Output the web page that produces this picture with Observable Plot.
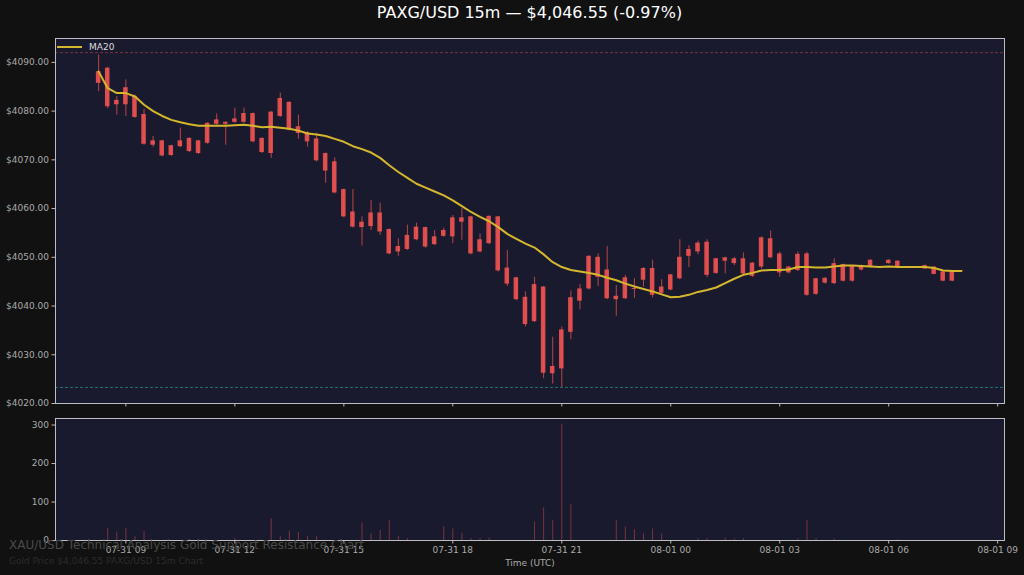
<!DOCTYPE html>
<html>
<head>
<meta charset="utf-8">
<script src="https://cdn.jsdelivr.net/npm/d3@7"></script>
<script src="https://cdn.jsdelivr.net/npm/@observablehq/plot@0.6"></script>
<style>
  html, body { margin: 0; padding: 0; background: #111111; }
  #root { position: relative; width: 1024px; height: 575px; background: #111111; overflow: hidden; font-family: "DejaVu Sans", sans-serif; }
  .abs { position: absolute; }
  #title { left: 0; width: 1059px; top: 3px; text-align: center; color: #ffffff; font-size: 16px; line-height: 20px; }
  #legend { left: 57px; top: 42px; display: flex; align-items: center; color: #dddddd; font-size: 9px; }
  #wm1 { left: 9px; top: 538px; color: #4a4a4a; font-size: 12px; white-space: nowrap; }
  #wm2 { left: 9px; top: 556px; color: #2c2c2c; font-size: 9px; white-space: nowrap; }
</style>
</head>
<body>
<div id="root">
  <div id="title" class="abs">PAXG/USD 15m — $4,046.55 (-0.97%)</div>
  <div id="main" class="abs" style="left:0;top:30px;"></div>
  <div id="vol" class="abs" style="left:0;top:415px;"></div>
  <div id="legend" class="abs"><svg width="26" height="10"><line x1="0" y1="5" x2="25" y2="5" stroke="#d4b72c" stroke-width="2"/></svg><span style="margin-left:6px">MA20</span></div>
  <div id="wm1" class="abs">XAU/USD Technical Analysis Gold Support Resistance Chart</div>
  <div id="wm2" class="abs">Gold Price $4,046.55 PAXG/USD 15m Chart</div>
</div>
<script>
// ---- data ----
const startTime = "2025-07-31T08:15:00Z";
const endTime = "2025-08-01T08:15:00Z"; // exclusive
const open = [4088.1,4088.8,4082.2,4084.8,4083.0,4079.3,4073.9,4073.9,4072.9,4073.9,
  4074.4,4073.9,4077.5,4078.2,4077.7,4078.4,4079.5,4079.5,4074.4,4079.8,
  4082.6,4081.8,4076.8,4075.6,4074.3,4071.3,4069.6,4063.9,4059.3,4057.2,
  4059.1,4059.1,4055.7,4052.2,4054.5,4056.2,4056.1,4054.2,4055.5,4058.1,
  4058.1,4058.3,4053.6,4058.4,4058.3,4047.8,4045.8,4041.8,4044.4,4043.9,
  4027.6,4035.1,4041.7,4043.5,4050.2,4050.0,4047.4,4042.0,4045.8,4043.6,
  4047.7,4047.7,4043.9,4046.4,4050.0,4051.6,4052.9,4053.1,4049.7,4049.9,
  4049.7,4049.7,4048.8,4054.0,4053.8,4050.7,4048.0,4050.6,4050.7,4045.6,
  4045.7,4048.7,4048.5,4048.2,4048.3,4049.4,4048.0,4049.4,4049.2,4048.0,
  4048.0,4048.3,4048.0,4047.0,4046.9,4047.2];
const close = [4085.7,4080.9,4081.3,4081.3,4078.7,4073.2,4073.0,4070.8,4070.9,4072.7,
  4071.7,4071.3,4073.4,4077.3,4077.3,4077.7,4077.7,4073.7,4071.5,4071.3,
  4078.9,4076.1,4075.4,4073.7,4069.8,4067.7,4063.2,4058.3,4056.2,4056.1,
  4056.3,4055.2,4050.7,4051.1,4051.6,4053.6,4052.1,4052.6,4054.3,4054.2,
  4057.2,4050.7,4051.1,4052.8,4047.2,4044.5,4041.3,4036.2,4036.8,4026.2,
  4026.1,4027.1,4034.6,4041.0,4043.5,4045.9,4041.5,4041.3,4041.5,4043.4,
  4045.3,4042.2,4042.6,4043.3,4045.6,4050.2,4051.1,4046.3,4046.7,4049.2,
  4048.7,4046.6,4046.1,4048.0,4049.9,4046.8,4046.8,4047.3,4042.2,4042.4,
  4044.7,4044.6,4045.1,4045.1,4047.4,4048.0,4048.0,4048.7,4048.0,4048.0,
  4048.0,4047.6,4046.5,4045.1,4045.1,4047.1];
const high = [4091.5,4089.0,4083.0,4086.4,4083.3,4080.4,4074.8,4074.0,4073.0,4076.5,
  4074.5,4074.0,4077.6,4079.4,4077.8,4080.6,4080.6,4079.6,4074.5,4079.9,
  4083.7,4081.9,4079.2,4075.8,4075.4,4071.4,4070.4,4064.0,4063.9,4058.3,
  4061.7,4061.1,4055.8,4053.8,4056.6,4057.0,4056.2,4055.5,4056.0,4058.6,
  4060.0,4058.4,4054.8,4058.5,4058.4,4051.4,4045.9,4042.9,4045.9,4044.0,
  4033.6,4035.7,4043.1,4044.4,4050.3,4050.7,4052.2,4044.2,4046.3,4045.6,
  4047.9,4049.4,4045.4,4046.5,4053.6,4052.4,4053.3,4053.6,4049.8,4050.0,
  4050.0,4050.9,4048.9,4054.2,4055.4,4051.1,4048.1,4051.1,4051.0,4045.7,
  4045.8,4049.7,4048.6,4048.3,4048.4,4049.5,4048.1,4049.5,4049.3,4048.1,
  4048.1,4048.4,4048.1,4047.1,4047.0,4047.3];
const low = [4084.0,4080.5,4079.2,4078.9,4078.5,4073.0,4072.6,4070.6,4070.7,4072.5,
  4071.5,4071.1,4073.2,4077.1,4073.0,4077.5,4077.5,4073.5,4071.3,4070.3,
  4078.7,4075.9,4074.2,4072.6,4069.6,4065.2,4063.0,4058.1,4056.0,4052.3,
  4055.5,4054.5,4050.5,4050.2,4051.4,4053.4,4051.9,4052.4,4054.1,4052.8,
  4053.5,4050.5,4050.9,4052.6,4047.0,4044.0,4041.1,4035.7,4036.6,4025.1,
  4024.0,4023.3,4033.1,4039.2,4043.3,4044.0,4041.3,4037.9,4041.3,4041.6,
  4043.9,4041.7,4042.4,4043.1,4045.4,4047.9,4050.5,4045.8,4046.5,4046.6,
  4048.3,4046.4,4045.9,4047.6,4049.7,4045.9,4046.6,4047.1,4042.0,4042.2,
  4044.5,4044.4,4044.9,4044.9,4047.2,4047.8,4047.9,4048.6,4047.9,4047.9,
  4047.9,4047.5,4046.4,4045.0,4045.0,4047.0];
const ma20 = [4088.1,4084.7,4083.7,4083.7,4083.0,4081.3,4080.0,4079.0,4078.2,4077.7,
  4077.3,4077.0,4077.0,4077.0,4077.0,4077.1,4077.2,4077.0,4076.7,4076.8,
  4076.6,4076.4,4076.0,4075.4,4075.2,4074.9,4074.3,4073.7,4072.8,4072.2,
  4071.5,4070.4,4068.9,4067.5,4066.3,4065.1,4064.3,4063.5,4062.7,4061.7,
  4060.5,4059.3,4058.3,4057.4,4056.2,4054.8,4053.8,4052.8,4052.0,4050.6,
  4049.0,4048.0,4047.4,4047.1,4046.8,4046.4,4045.8,4045.3,4044.6,4044.0,
  4043.5,4043.0,4042.4,4041.8,4041.9,4042.3,4042.9,4043.3,4043.8,4044.7,
  4045.6,4046.4,4046.8,4047.3,4047.4,4047.4,4047.5,4048.0,4048.0,4047.9,
  4047.9,4048.1,4048.3,4048.3,4048.2,4048.1,4048.0,4048.1,4048.0,4048.0,
  4048.0,4048.0,4047.8,4047.3,4047.2,4047.2];
const volume = [0,32,22,31,10,23,0,0,0,0,
  3,3,0,0,0,5,0,0,0,57,
  10,24,20,10,10,0,0,0,0,45,
  17,26,52,10,5,0,0,0,36,30,
  19,5,5,6,0,0,0,0,48,85,
  52,302,93,0,0,0,0,52,35,28,
  17,30,17,0,0,0,5,5,0,6,
  4,5,0,0,0,0,0,4,52,5,
  0,4,0,0,0,0,0,0,2,0,
  0,0,0,0,0,0];
const resistance = [4092.0];
const support = [4023.3];
const priceTicks = [4020,4030,4040,4050,4060,4070,4080,4090];
const volTicks = [0,100,200,300];
const timeTickLabels = ["07-31 09","07-31 12","07-31 15","07-31 18","07-31 21","08-01 00","08-01 03","08-01 06","08-01 09"];
const xDomain = ["2025-07-31T07:03:45Z","2025-08-01T09:11:15Z"];

// ---- build table ----
const times = d3.utcMinute.every(15).range(new Date(startTime), new Date(endTime));
const parseTick = d3.utcParse("%Y-%m-%d %H");
const xTicks = timeTickLabels.map(s => parseTick("2025-" + s));
const fmtTick = d3.utcFormat("%m-%d %H");
const data = times.map((t, i) => ({
  t, open: open[i], close: close[i], high: high[i], low: low[i], ma: ma20[i], vol: volume[i]
}));
const halfBody = 3.75 * 60 * 1000;

const RED = "#ef5350";
const PANEL = "#1a1a2e";
const FRAME = "#bdbdc6";
const xScale = {type: "utc", domain: xDomain.map(d => new Date(d))};
const baseStyle = {background: "transparent", color: "#aaaaaa", fontFamily: "DejaVu Sans, sans-serif", fontSize: "9px", overflow: "visible"};

const main = Plot.plot({
  width: 1024, height: 385,
  marginLeft: 55, marginRight: 20, marginTop: 8, marginBottom: 12,
  style: baseStyle,
  x: xScale,
  y: {domain: [4020, 4094.9]},
  marks: [
    Plot.frame({fill: PANEL, stroke: "none"}),
    Plot.ruleY(resistance, {stroke: RED, strokeOpacity: 0.55, strokeWidth: 0.8, strokeDasharray: "3,2"}),
    Plot.ruleY(support, {stroke: "#26a69a", strokeOpacity: 0.8, strokeWidth: 0.8, strokeDasharray: "3,2"}),
    Plot.ruleX(data, {x: "t", y1: "low", y2: "high", stroke: RED, strokeOpacity: 0.75, strokeWidth: 1}),
    Plot.rect(data, {x1: d => new Date(+d.t - halfBody), x2: d => new Date(+d.t + halfBody), y1: "open", y2: "close", fill: RED, fillOpacity: 0.9}),
    Plot.line(data, {x: "t", y: "ma", stroke: "#d4b72c", strokeWidth: 2}),
    Plot.axisY({ticks: priceTicks, tickFormat: d => "$" + d.toFixed(2), tickSize: 3.5, tickPadding: 3, label: null, fill: "#aaaaaa", stroke: "#bbbbbb"}),
    Plot.axisX({ticks: xTicks, tickFormat: () => "", tickSize: 3.5, label: null, stroke: "#bbbbbb"}),
    Plot.frame({stroke: FRAME, strokeWidth: 1})
  ]
});
document.getElementById("main").appendChild(main);

const vol = Plot.plot({
  width: 1024, height: 160,
  marginLeft: 55, marginRight: 20, marginTop: 3, marginBottom: 35,
  style: baseStyle,
  x: xScale,
  y: {domain: [0, 317]},
  marks: [
    Plot.frame({fill: PANEL, stroke: "none"}),
    Plot.ruleX(data.filter(d => d.vol > 0), {x: "t", y: "vol", stroke: RED, strokeOpacity: 0.45, strokeWidth: 1}),
    Plot.axisY({ticks: volTicks, tickSize: 3.5, tickPadding: 3, label: null, fill: "#aaaaaa", stroke: "#bbbbbb"}),
    Plot.axisX({ticks: xTicks, tickFormat: fmtTick, tickSize: 3.5, tickPadding: 3, fill: "#aaaaaa", stroke: "#bbbbbb",
      label: "Time (UTC)", labelAnchor: "center", labelArrow: "none", labelOffset: 25}),
    Plot.frame({stroke: FRAME, strokeWidth: 1})
  ]
});
document.getElementById("vol").appendChild(vol);
</script>
</body>
</html>
